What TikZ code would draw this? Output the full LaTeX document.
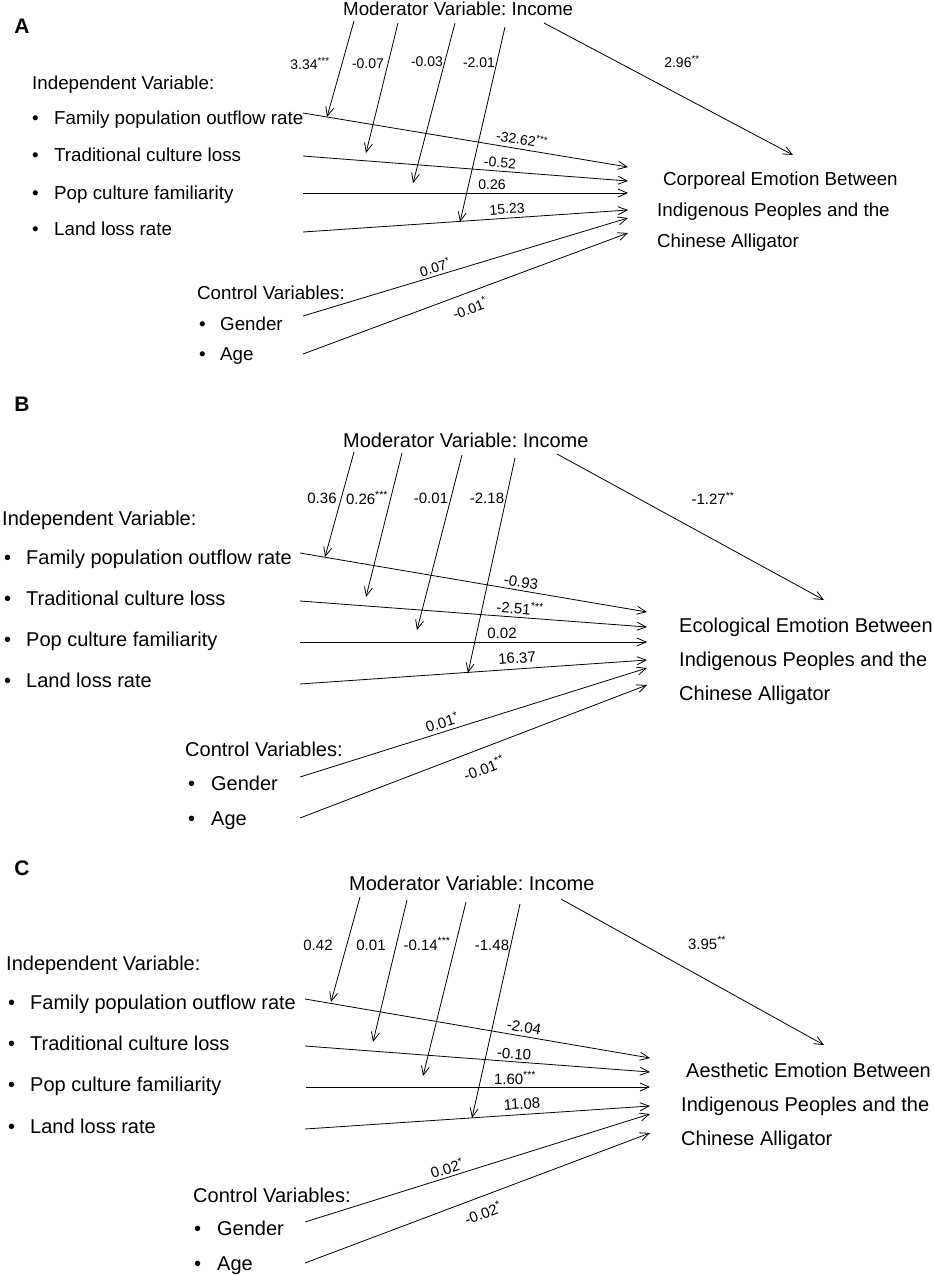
\documentclass[tikz,border=0pt]{standalone}
\usepackage{fontspec}
\setmainfont{Liberation Sans}
\usetikzlibrary{arrows.meta}
\frenchspacing

\begin{document}
\begin{tikzpicture}[x=1pt, y=-1pt,
  panel/.style={font=\fontsize{21}{21}\selectfont\bfseries, inner sep=0pt},
  txtA/.style={font=\fontsize{18.75}{31}\selectfont, anchor=base west, inner sep=0pt},
  txtB/.style={font=\fontsize{20}{34}\selectfont, anchor=base west, inner sep=0pt},
  coefA/.style={font=\fontsize{14}{14}\selectfont, inner sep=0pt},
  coefB/.style={font=\fontsize{15}{15}\selectfont, inner sep=0pt},
  arr/.style={-{Straight Barb[length=9pt,width=8pt]}, line width=0.8pt}]

\useasboundingbox (0,0) rectangle (934,1275);

%%%%% Panel A

% Nodes
\node[panel] at (22,26) (pA) {A};
\node[txtA] at (343,15) (modA) {Moderator Variable: Income};
\node[txtA] at (32,89) (indA) {Independent Variable:};
\node[txtA] at (32,124) (iA1) {\makebox[22pt][l]{\textbullet}Family population outflow rate};
\node[txtA] at (32,161) (iA2) {\makebox[22pt][l]{\textbullet}Traditional culture loss};
\node[txtA] at (32,199) (iA3) {\makebox[22pt][l]{\textbullet}Pop culture familiarity};
\node[txtA] at (32,235) (iA4) {\makebox[22pt][l]{\textbullet}Land loss rate};
\node[txtA] at (197,299) (ctlA) {Control Variables:};
\node[txtA] at (199,330) (gA) {\makebox[21pt][l]{\textbullet}Gender};
\node[txtA] at (199,360) (aA) {\makebox[21pt][l]{\textbullet}Age};
\node[txtA, align=left] at (657,247) (depA) {\hspace*{6pt}Corporeal Emotion Between\\Indigenous Peoples and the\\Chinese Alligator};

% Coordinates
\coordinate (sA1) at (303,113); \coordinate (eA1) at (628,167);
\coordinate (sA2) at (303,156); \coordinate (eA2) at (628,181);
\coordinate (sA3) at (303,193); \coordinate (eA3) at (628,193);
\coordinate (sA4) at (303,232); \coordinate (eA4) at (628,210);
\coordinate (sA5) at (303,316); \coordinate (eA5) at (628,218);
\coordinate (sA6) at (303,354); \coordinate (eA6) at (628,233);
\coordinate (mA1) at (354,21); \coordinate (hA1) at (327,117);
\coordinate (mA2) at (398,23); \coordinate (hA2) at (366,153);
\coordinate (mA3) at (455,23); \coordinate (hA3) at (413,183);
\coordinate (mA4) at (505,27); \coordinate (hA4) at (460,222);
\coordinate (mA5) at (544,23); \coordinate (hA5) at (793,155);

% Lines
\draw[arr] (sA1) -- (eA1);
\draw[arr] (sA2) -- (eA2);
\draw[arr] (sA3) -- (eA3);
\draw[arr] (sA4) -- (eA4);
\draw[arr] (sA5) -- (eA5);
\draw[arr] (sA6) -- (eA6);
\draw[arr] (mA1) -- (hA1);
\draw[arr] (mA2) -- (hA2);
\draw[arr] (mA3) -- (hA3);
\draw[arr] (mA4) -- (hA4);
\draw[arr] (mA5) -- (hA5);

% Coefficients
\node[coefA] at (310,64) (kA1) {3.34\textsuperscript{***}};
\node[coefA] at (368,64) (kA2) {-0.07};
\node[coefA] at (427,62) (kA3) {-0.03};
\node[coefA] at (479,63) (kA4) {-2.01};
\node[coefA] at (682,62) (kA5) {2.96\textsuperscript{**}};
\node[coefA, rotate=-9.4] at (522,139) (cA1) {-32.62\textsuperscript{***}};
\node[coefA, rotate=-4.4] at (500,163) (cA2) {-0.52};
\node[coefA] at (492,185) (cA3) {0.26};
\node[coefA, rotate=3.9] at (507,209) (cA4) {15.23};
\node[coefA, rotate=16.8] at (435,267) (cA5) {0.07\textsuperscript{*}};
\node[coefA, rotate=20.4] at (470,308) (cA6) {-0.01\textsuperscript{*}};

%%%%% Panel B

% Nodes
\node[panel] at (22,404) (pB) {B};
\node[txtB] at (343,447) (modB) {Moderator Variable: Income};
\node[txtB] at (2,525) (indB) {Independent Variable:};
\node[txtB] at (4,564) (iB1) {\makebox[22pt][l]{\textbullet}Family population outflow rate};
\node[txtB] at (4,605) (iB2) {\makebox[22pt][l]{\textbullet}Traditional culture loss};
\node[txtB] at (4,646) (iB3) {\makebox[22pt][l]{\textbullet}Pop culture familiarity};
\node[txtB] at (4,687) (iB4) {\makebox[22pt][l]{\textbullet}Land loss rate};
\node[txtB] at (185,756) (ctlB) {Control Variables:};
\node[txtB] at (188,790) (gB) {\makebox[23pt][l]{\textbullet}Gender};
\node[txtB] at (188,825) (aB) {\makebox[23pt][l]{\textbullet}Age};
\node[txtB, align=left] at (679,700) (depB) {Ecological Emotion Between\\Indigenous Peoples and the\\Chinese Alligator};

% Coordinates
\coordinate (sB1) at (300,553); \coordinate (eB1) at (647,612);
\coordinate (sB2) at (300,601); \coordinate (eB2) at (647,627);
\coordinate (sB3) at (300,642); \coordinate (eB3) at (647,642);
\coordinate (sB4) at (300,684); \coordinate (eB4) at (647,660);
\coordinate (sB5) at (300,777); \coordinate (eB5) at (647,668);
\coordinate (sB6) at (300,818); \coordinate (eB6) at (647,685);
\coordinate (mB1) at (354,452); \coordinate (hB1) at (325,557);
\coordinate (mB2) at (402,453); \coordinate (hB2) at (366,597);
\coordinate (mB3) at (462,455); \coordinate (hB3) at (417,630);
\coordinate (mB4) at (515,458); \coordinate (hB4) at (468,673);
\coordinate (mB5) at (557,454); \coordinate (hB5) at (824,600);

% Lines
\draw[arr] (sB1) -- (eB1);
\draw[arr] (sB2) -- (eB2);
\draw[arr] (sB3) -- (eB3);
\draw[arr] (sB4) -- (eB4);
\draw[arr] (sB5) -- (eB5);
\draw[arr] (sB6) -- (eB6);
\draw[arr] (mB1) -- (hB1);
\draw[arr] (mB2) -- (hB2);
\draw[arr] (mB3) -- (hB3);
\draw[arr] (mB4) -- (hB4);
\draw[arr] (mB5) -- (hB5);

% Coefficients
\node[coefB] at (322,498) (kB1) {0.36};
\node[coefB] at (367,498) (kB2) {0.26\textsuperscript{***}};
\node[coefB] at (431,498) (kB3) {-0.01};
\node[coefB] at (487,498) (kB4) {-2.18};
\node[coefB] at (713,498) (kB5) {-1.27\textsuperscript{**}};
\node[coefB, rotate=-9.7] at (521,582) (cB1) {-0.93};
\node[coefB, rotate=-4.3] at (520,608) (cB2) {-2.51\textsuperscript{***}};
\node[coefB] at (502,633) (cB3) {0.02};
\node[coefB, rotate=4.0] at (517,658) (cB4) {16.37};
\node[coefB, rotate=17.4] at (442,722) (cB5) {0.01\textsuperscript{*}};
\node[coefB, rotate=21.0] at (484,768) (cB6) {-0.01\textsuperscript{**}};

%%%%% Panel C

% Nodes
\node[panel] at (22,868) (pC) {C};
\node[txtB] at (349,890) (modC) {Moderator Variable: Income};
\node[txtB] at (6,970) (indC) {Independent Variable:};
\node[txtB] at (8,1009) (iC1) {\makebox[22pt][l]{\textbullet}Family population outflow rate};
\node[txtB] at (8,1050) (iC2) {\makebox[22pt][l]{\textbullet}Traditional culture loss};
\node[txtB] at (8,1091) (iC3) {\makebox[22pt][l]{\textbullet}Pop culture familiarity};
\node[txtB] at (8,1133) (iC4) {\makebox[22pt][l]{\textbullet}Land loss rate};
\node[txtB] at (193,1202) (ctlC) {Control Variables:};
\node[txtB] at (194,1235) (gC) {\makebox[23pt][l]{\textbullet}Gender};
\node[txtB] at (194,1270) (aC) {\makebox[23pt][l]{\textbullet}Age};
\node[txtB, align=left] at (681,1145) (depC) {\hspace*{5pt}Aesthetic Emotion Between\\Indigenous Peoples and the\\Chinese Alligator};

% Coordinates
\coordinate (sC1) at (305,999); \coordinate (eC1) at (650,1058);
\coordinate (sC2) at (305,1046); \coordinate (eC2) at (650,1072);
\coordinate (sC3) at (306,1087); \coordinate (eC3) at (650,1087);
\coordinate (sC4) at (305,1129); \coordinate (eC4) at (650,1106);
\coordinate (sC5) at (305,1222); \coordinate (eC5) at (650,1114);
\coordinate (sC6) at (305,1263); \coordinate (eC6) at (650,1133);
\coordinate (mC1) at (360,897); \coordinate (hC1) at (331,1002);
\coordinate (mC2) at (407,900); \coordinate (hC2) at (373,1042);
\coordinate (mC3) at (466,902); \coordinate (hC3) at (423,1076);
\coordinate (mC4) at (520,904); \coordinate (hC4) at (472,1118);
\coordinate (mC5) at (561,899); \coordinate (hC5) at (824,1045);

% Lines
\draw[arr] (sC1) -- (eC1);
\draw[arr] (sC2) -- (eC2);
\draw[arr] (sC3) -- (eC3);
\draw[arr] (sC4) -- (eC4);
\draw[arr] (sC5) -- (eC5);
\draw[arr] (sC6) -- (eC6);
\draw[arr] (mC1) -- (hC1);
\draw[arr] (mC2) -- (hC2);
\draw[arr] (mC3) -- (hC3);
\draw[arr] (mC4) -- (hC4);
\draw[arr] (mC5) -- (hC5);

% Coefficients
\node[coefB] at (318,945) (kC1) {0.42};
\node[coefB] at (371,945) (kC2) {0.01};
\node[coefB] at (427,944) (kC3) {-0.14\textsuperscript{***}};
\node[coefB] at (492,945) (kC4) {-1.48};
\node[coefB] at (707,943) (kC5) {3.95\textsuperscript{**}};
\node[coefB, rotate=-9.7] at (524,1027) (cC1) {-2.04};
\node[coefB, rotate=-4.3] at (514,1054) (cC2) {-0.10};
\node[coefB] at (515,1078) (cC3) {1.60\textsuperscript{***}};
\node[coefB, rotate=3.8] at (522,1104) (cC4) {11.08};
\node[coefB, rotate=17.4] at (447,1168) (cC5) {0.02\textsuperscript{*}};
\node[coefB, rotate=20.7] at (483,1213) (cC6) {-0.02\textsuperscript{*}};

\end{tikzpicture}
\end{document}
